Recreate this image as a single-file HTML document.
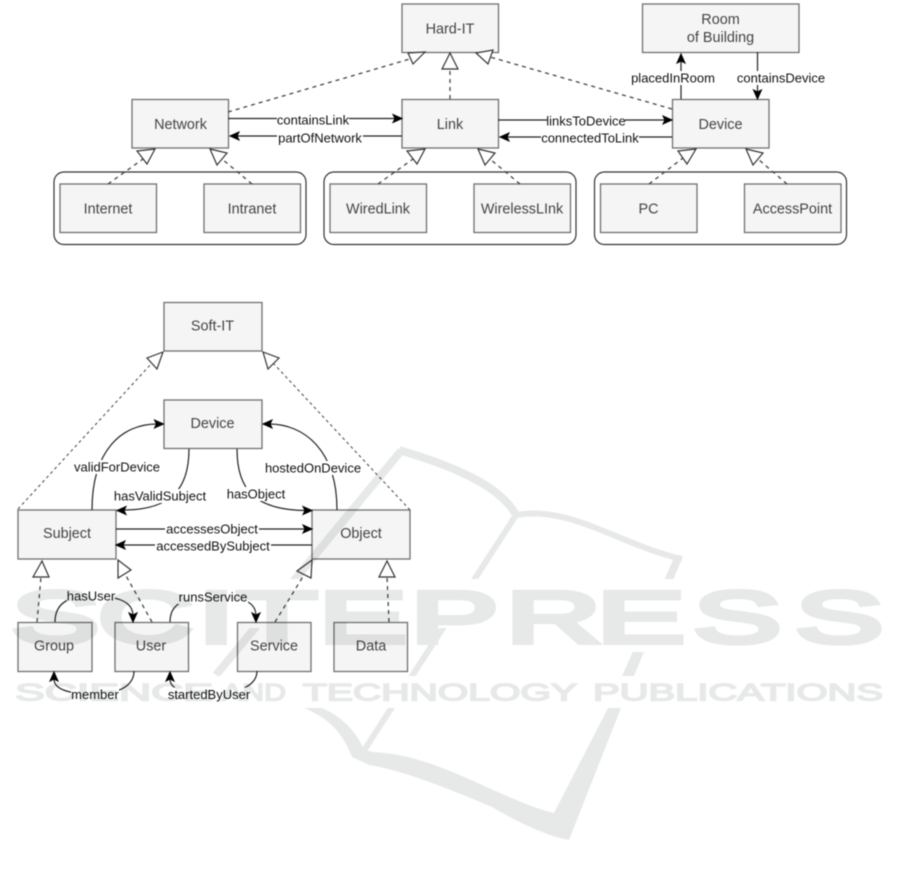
<!DOCTYPE html>
<html>
<head>
<meta charset="utf-8">
<style>
html,body{margin:0;padding:0;background:#fff;width:901px;height:876px;overflow:hidden}
svg{position:absolute;left:0;top:0;display:block}
#d{filter:blur(.45px)}
#w{mix-blend-mode:multiply;filter:blur(.5px)}
.b{fill:#f5f5f5;stroke:#707070;stroke-width:1.3}
.c{fill:none;stroke:#333;stroke-width:1.2}
.t{font-family:"Liberation Sans",sans-serif;font-size:14.4px;fill:#444;text-anchor:middle}
.l{font-family:"Liberation Sans",sans-serif;font-size:13px;fill:#111;text-anchor:middle}
.r{fill:#fff}
.s{fill:none;stroke:#222;stroke-width:1.2}
.g{fill:none;stroke:#444;stroke-width:1.3;stroke-dasharray:4 4}
.g2{fill:none;stroke:#444;stroke-width:1;stroke-dasharray:3 3}
.o{fill:#fff;stroke:#333;stroke-width:1.2}
.a{fill:#000;stroke:#000;stroke-width:1}
.wm{font-family:"Liberation Sans",sans-serif;fill:#e7e9e9;stroke:#e7e9e9}
</style>
</head>
<body>
<svg id="d" width="901" height="876" viewBox="0 0 901 876" xmlns="http://www.w3.org/2000/svg">
<!-- containers -->
<rect x="54" y="172" width="252" height="72.500" rx="10" class="c"/>
<rect x="324" y="172" width="252" height="72.500" rx="10" class="c"/>
<rect x="594.500" y="172" width="252" height="72.500" rx="10" class="c"/>
<!-- top boxes -->
<rect x="402" y="4" width="96.500" height="48.500" class="b"/>
<rect x="642.500" y="4" width="156.500" height="48.500" class="b"/>
<rect x="132" y="99.500" width="96.500" height="48.500" class="b"/>
<rect x="402" y="99.500" width="96.500" height="48.500" class="b"/>
<rect x="672.500" y="99.500" width="96.500" height="48.500" class="b"/>
<rect x="60" y="184" width="96.500" height="48.500" class="b"/>
<rect x="204" y="184" width="96.500" height="48.500" class="b"/>
<rect x="330" y="184" width="96.500" height="48.500" class="b"/>
<rect x="474" y="184" width="96.500" height="48.500" class="b"/>
<rect x="600.500" y="184" width="96.500" height="48.500" class="b"/>
<rect x="744.500" y="184" width="96.500" height="48.500" class="b"/>
<!-- top generalisations -->
<path class="g" d="M228,112 L410,59"/><polygon class="o" points="425,52 408,53 413,64"/>
<path class="g" d="M450,99 L450,69"/><polygon class="o" points="450,53 442,69 458,69"/>
<path class="g" d="M672,109 L490,57"/><polygon class="o" points="476,53 493,50 488,64"/>
<path class="g" d="M108,184 L143,159"/><polygon class="o" points="155,149 137,151 147,164"/>
<path class="g" d="M252,184 L222,159"/><polygon class="o" points="210,149 227,153 217,165"/>
<path class="g" d="M378,184 L413,159"/><polygon class="o" points="425,149 407,151 417,164"/>
<path class="g" d="M520,184 L490,159"/><polygon class="o" points="478,149 495,153 485,165"/>
<path class="g" d="M649,184 L683,158"/><polygon class="o" points="696,149 678,151 687,164"/>
<path class="g" d="M787,184 L758,159"/><polygon class="o" points="746,149 763,153 753,165"/>
<!-- top associations -->
<path class="s" d="M228,118.500 H396"/><polygon class="a" points="402,118.500 393,114.500 395,118.500 393,122.500"/>
<path class="s" d="M402,136 H236"/><polygon class="a" points="230,136 239,132 237,136 239,140"/>
<path class="s" d="M498,120 H666"/><polygon class="a" points="672,120 663,116 665,120 663,124"/>
<path class="s" d="M672,137 H506"/><polygon class="a" points="500,137 509,133 507,137 509,141"/>
<path class="s" d="M681,99 V60"/><polygon class="a" points="681,54 677,63 681,61 685,63"/>
<path class="s" d="M757.500,52 V93"/><polygon class="a" points="757.500,99 753.500,90 757.500,92 761.500,90"/>
<rect class="r" x="277" y="113" width="72" height="14"/><text x="313" y="124.500" class="l">containsLink</text>
<rect class="r" x="277" y="131" width="86" height="14"/><text x="320" y="142.500" class="l">partOfNetwork</text>
<rect class="r" x="547" y="114" width="78" height="14"/><text x="586" y="125.500" class="l">linksToDevice</text>
<rect class="r" x="541" y="131" width="98" height="14"/><text x="590" y="142.500" class="l">connectedToLink</text>
<rect class="r" x="632" y="71" width="82" height="14"/><text x="673" y="82.500" class="l">placedInRoom</text>
<rect class="r" x="737" y="71" width="88" height="14"/><text x="781" y="82.500" class="l">containsDevice</text>
<!-- top labels -->
<text x="450" y="33.500" class="t">Hard-IT</text>
<text x="720.500" y="24" class="t">Room</text>
<text x="720.500" y="42" class="t">of Building</text>
<text x="180.500" y="129" class="t">Network</text>
<text x="450" y="129" class="t">Link</text>
<text x="720.500" y="129" class="t">Device</text>
<text x="108" y="213.500" class="t">Internet</text>
<text x="252" y="213.500" class="t">Intranet</text>
<text x="378" y="213.500" class="t">WiredLink</text>
<text x="522" y="213.500" class="t">WirelessLInk</text>
<text x="648.500" y="213.500" class="t">PC</text>
<text x="792.500" y="213.500" class="t">AccessPoint</text>

<!-- lower boxes -->
<rect x="164" y="302.500" width="98" height="48.500" class="b"/>
<rect x="164" y="400" width="98" height="48.500" class="b"/>
<rect x="18" y="510" width="98" height="49" class="b"/>
<rect x="312" y="510" width="98" height="49" class="b"/>
<rect x="18" y="622.500" width="74" height="49" class="b"/>
<rect x="115" y="622.500" width="73.500" height="49" class="b"/>
<rect x="237.500" y="622.500" width="73.500" height="49" class="b"/>
<rect x="334" y="622.500" width="73.500" height="49" class="b"/>
<!-- lower generalisations -->
<path class="g2" d="M18,509 L152,363"/><polygon class="o" points="163,352 147,358 157,369"/>
<path class="g2" d="M410,510 L274,364"/><polygon class="o" points="263,352 279,358 268,369"/>
<path class="g" d="M37,622 L41,577"/><polygon class="o" points="42,561 33,577 49,577"/>
<path class="g" d="M152,622 L125,574"/><polygon class="o" points="118,560 131,570 118,578"/>
<path class="g" d="M275,622 L304,575"/><polygon class="o" points="312,560 297,571 311,578"/>
<path class="g" d="M389,622 L387,577"/><polygon class="o" points="387,561 379,577 395,577"/>
<!-- lower associations -->
<path class="s" d="M92,510 C92,450 122,424 157,424"/><polygon class="a" points="163.500,424 154.500,420 156.500,424 154.500,428"/>
<path class="s" d="M189,449 C189,490 170,510 123,510"/><polygon class="a" points="117,510.500 126,506.500 124,510.500 126,514.500"/>
<path class="s" d="M237,449 C237,490 255,510 306,510.500"/><polygon class="a" points="312,510.500 303,506.500 305,510.500 303,514.500"/>
<path class="s" d="M337,510 C337,450 304,424 269,424"/><polygon class="a" points="263,424 272,420 270,424 272,428"/>
<path class="s" d="M116,529 H306"/><polygon class="a" points="312,529 303,525 305,529 303,533"/>
<path class="s" d="M312,545 H122"/><polygon class="a" points="116,545 125,541 123,545 125,549"/>
<path class="s" d="M55,622 C55,606 65,596 90,596 C115,596 133,600 133,616"/><polygon class="a" points="133,622 129,613 133,615 137,613"/>
<path class="s" d="M170,622 C170,606 180,597 213,597 C240,597 256,600 256,616"/><polygon class="a" points="256,622 252,613 256,615 260,613"/>
<path class="s" d="M134,671 C134,685 120,694 95,694 C70,694 54,690 54,679"/><polygon class="a" points="54,672 50,681 54,679 58,681"/>
<path class="s" d="M257,671 C257,685 240,694 209,694 C185,694 170,690 170,679"/><polygon class="a" points="170,672 166,681 170,679 174,681"/>
<rect class="r" x="74" y="460" width="86" height="14"/><text x="117" y="471.500" class="l">validForDevice</text>
<rect class="r" x="113" y="489" width="94" height="14"/><text x="160" y="500.500" class="l">hasValidSubject</text>
<rect class="r" x="226" y="487" width="60" height="14"/><text x="256" y="498.500" class="l">hasObject</text>
<rect class="r" x="264" y="461" width="98" height="14"/><text x="313" y="472.500" class="l">hostedOnDevice</text>
<rect class="r" x="165" y="522" width="94" height="14"/><text x="212" y="533.500" class="l">accessesObject</text>
<rect class="r" x="155" y="539" width="116" height="14"/><text x="213" y="550.500" class="l">accessedBySubject</text>
<rect class="r" x="67" y="589" width="48" height="14"/><text x="91" y="600.500" class="l">hasUser</text>
<rect class="r" x="178" y="590" width="70" height="14"/><text x="213" y="601.500" class="l">runsService</text>
<rect class="r" x="71" y="687.500" width="48" height="14"/><text x="95" y="699" class="l">member</text>
<rect class="r" x="168" y="687.500" width="82" height="14"/><text x="209" y="699" class="l">startedByUser</text>
<!-- lower labels -->
<text x="212.500" y="330.500" class="t">Soft-IT</text>
<text x="212.500" y="428" class="t">Device</text>
<text x="67" y="538" class="t">Subject</text>
<text x="361" y="538" class="t">Object</text>
<text x="54" y="650.500" class="t">Group</text>
<text x="151" y="650.500" class="t">User</text>
<text x="274" y="650.500" class="t">Service</text>
<text x="371" y="650.500" class="t">Data</text>
</svg>

<svg id="w" width="901" height="876" viewBox="0 0 901 876" xmlns="http://www.w3.org/2000/svg">
<g fill="none" stroke="#e7e9e9" stroke-linecap="butt">
<path d="M401,451 L216,675" stroke-width="8"/>
<path d="M399,450 C450,465 500,485 516,515" stroke-width="8"/>
<path d="M516,515 C570,505 620,545 682,559" stroke-width="6"/>
<path d="M516,515 L363,752" stroke-width="6"/>
</g>
<path fill="#e7e9e9" d="M683,556 L621,708 L569,840 C540,835 500,812 492,807 C440,785 400,770 369,765 L352,757 C340,725 320,715 304,708 L322,708 C345,718 358,735 364,750 L373,752 C440,755 500,800 554,813 L608,708 L673,560 Z"/>
<rect x="0" y="676" width="901" height="32" fill="#fff"/>
<rect x="0" y="579" width="901" height="49" fill="#fff"/>
<rect x="600" y="579" width="301" height="73" fill="#fff"/>
<text class="wm" transform="scale(1.8,1)" y="642.500" font-size="73" stroke-width="5" x="6.400 54.400 110 131.600 177.200 228.200 281.200 331.700 385.300 442">SCITEPRESS</text>
<text class="wm" y="700.500" x="15" font-size="24" stroke-width="1.5" textLength="198" lengthAdjust="spacingAndGlyphs">SCIENCE</text>
<text class="wm" y="700.500" x="222" font-size="24" stroke-width="1.5" textLength="64" lengthAdjust="spacingAndGlyphs">AND</text>
<text class="wm" y="700.500" x="303" font-size="24" stroke-width="1.5" textLength="274" lengthAdjust="spacingAndGlyphs">TECHNOLOGY</text>
<text class="wm" y="700.500" x="593" font-size="24" stroke-width="1.5" textLength="290" lengthAdjust="spacingAndGlyphs">PUBLICATIONS</text>
</svg>
</body>
</html>
